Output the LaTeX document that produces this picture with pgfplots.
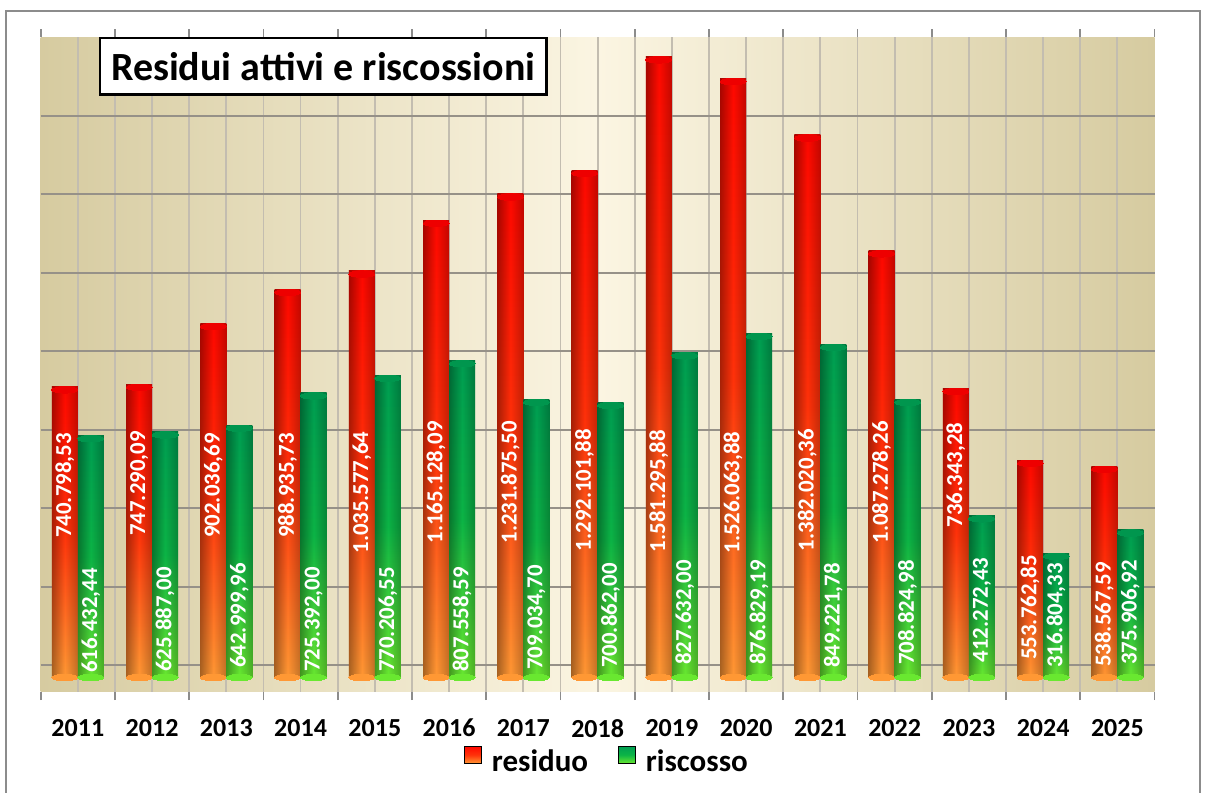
\documentclass[border=0pt]{standalone}
\usepackage{pgfplots}
\pgfplotsset{compat=1.18}
\usepackage{pgfplotstable}
\usetikzlibrary{fadings}
\usepackage{fontspec}
\setmainfont{Carlito}

\definecolor{wallEdge}{RGB}{214,203,160}
\definecolor{wallMid}{RGB}{251,245,226}
\definecolor{resTop}{RGB}{255,8,0}
\definecolor{resMid}{RGB}{255,50,10}
\definecolor{resBot}{RGB}{255,152,52}
\definecolor{resCap}{RGB}{238,0,0}
\definecolor{risTop}{RGB}{0,158,82}
\definecolor{risMid}{RGB}{12,180,70}
\definecolor{risBot}{RGB}{105,232,48}
\definecolor{risCap}{RGB}{0,150,78}
\definecolor{floorBlue}{RGB}{88,134,200}
\definecolor{floorGrayA}{RGB}{170,166,192}
\definecolor{floorGrayB}{RGB}{205,202,218}
\definecolor{vgrid}{RGB}{195,189,176}
\definecolor{hgrid}{RGB}{150,145,136}
\definecolor{frame}{RGB}{140,140,140}

\tikzfading[name=topfade, top color=transparent!50, bottom color=transparent!100]

\pgfdeclarelayer{floor}
\pgfplotsset{
  layers/mylayers/.define layer set={axis background,floor,axis grid,axis ticks,axis lines,axis tick labels,pre main,main,axis descriptions,axis foreground}{},
  cylres/.style={forget plot, ybar, bar width=0.35, bar shift=0pt, draw=none,
    top color=resTop, bottom color=resBot, middle color=resMid},
  cylris/.style={forget plot, ybar, bar width=0.35, bar shift=0pt, draw=none,
    top color=risTop, bottom color=risBot, middle color=risMid},
  cylshade/.style={forget plot, ybar, bar width=0.35, bar shift=0pt, draw=none,
    left color=black!34, right color=black!24, middle color=white, blend mode=multiply},
}

\pgfplotstableread{
i year r g rl gl rlab glab
0 2011 740798.53 616432.44 489000 145200 740.798,53 616.432,44
1 2012 747290.09 625887.00 494100 147700 747.290,09 625.887,00
2 2013 902036.69 642999.96 489000 157900 902.036,69 642.999,96
3 2014 988935.73 725392.00 489000 147700 988.935,73 725.392,00
4 2015 1035577.64 770206.55 471200 147700 1.035.577,64 770.206,55
5 2016 1165128.09 807558.59 496700 147700 1.165.128,09 807.558,59
6 2017 1231875.50 709034.70 496700 152800 1.231.875,50 709.034,70
7 2018 1292101.88 700862.00 477600 157900 1.292.101,88 700.862,00
8 2019 1581295.88 827632.00 475000 165600 1.581.295,88 827.632,00
9 2020 1526063.88 876829.19 471200 165600 1.526.063,88 876.829,19
10 2021 1382020.36 849221.78 477600 157900 1.382.020,36 849.221,78
11 2022 1087278.26 708824.98 496700 165600 1.087.278,26 708.824,98
12 2023 736343.28 412272.43 515800 171900 736.343,28 412.272,43
13 2024 553762.85 316804.33 178300 157900 553.762,85 316.804,33
14 2025 538567.59 375906.92 160500 165600 538.567,59 375.906,92
}\datatable

\begin{document}
\begin{tikzpicture}
\begin{scope}[shift={(-20.35pt,346pt)}, x=0.5pt, y=-0.5pt]
  \fill[white] (0,0) rectangle (1209,792);
\end{scope}
\begin{axis}[
  set layers=mylayers,
  at={(0pt,0pt)}, anchor=south west,
  scale only axis, width=556.9pt, height=327.35pt,
  xmin=-0.5, xmax=14.5, ymin=-36900, ymax=1630700,
  scaled y ticks=false,
  axis line style={draw=none},
  axis background/.style={shade, left color=wallEdge, right color=wallEdge, middle color=wallMid},
  xtick={0,...,14},
  xticklabels from table={\datatable}{year},
  minor x tick num=1,
  xmajorgrids, xminorgrids, ymajorgrids,
  ytick={31840,231610,431380,631150,830920,1030690,1230460,1430230},
  yticklabels={},
  ytick style={draw=none},
  x grid style={vgrid, line width=0.9pt},
  y grid style={hgrid, line width=1pt},
  tick style={frame, line width=0.8pt},
  major tick length=0pt, minor tick length=4pt,
  xtick align=outside,
  extra x ticks={-0.5,14.5}, extra x tick labels={},
  extra x tick style={major tick length=4pt, grid=none},
  xticklabel style={font=\bfseries\fontsize{13}{15}\selectfont, yshift=-10pt},
  title={Residui attivi e riscossioni},
  title style={at={(0.2537,0.9374)}, anchor=center, draw=black, line width=1.1pt, fill=white,
    minimum width=223.3pt, minimum height=28.3pt, inner sep=0pt,
    font=\bfseries\fontsize{20}{24}\selectfont},
  legend style={at={(0.5093,-0.1069)}, anchor=center, draw=none, fill=none,
    font=\bfseries\fontsize{15.5}{18}\selectfont, legend columns=2,
    /tikz/every odd column/.append style={column sep=3pt},
    /tikz/every even column/.append style={column sep=13pt}},
  legend image code/.code={\fill[#1] (0pt,-0.7pt) rectangle (8.5pt,7.8pt);},
]
\begin{pgfonlayer}{floor}
  \fill[wallEdge, path fading=topfade] (axis cs:-0.5,1230460) rectangle (axis cs:14.5,1630700);
  \fill[top color=floorBlue!85!white, bottom color=floorBlue] (axis cs:-0.5,31840) rectangle (axis cs:14.5,-8900);
  \fill[top color=floorGrayA, bottom color=floorGrayB] (axis cs:-0.5,-8900) rectangle (axis cs:14.5,-36900);
\end{pgfonlayer}

% bottom caps
\addplot[forget plot, only marks, mark=*, mark size=6.5pt, mark options={draw=resBot, fill=resBot, line width=0pt, yscale=0.25}]
  table[x expr=\thisrow{i}-0.175, y expr=0] {\datatable};
\addplot[forget plot, only marks, mark=*, mark size=6.5pt, mark options={draw=risBot, fill=risBot, line width=0pt, yscale=0.25}]
  table[x expr=\thisrow{i}+0.175, y expr=0] {\datatable};

% one plot per bar, so that each cylinder gets its own shading
\pgfplotsinvokeforeach{0,...,14}{
  \addplot[cylres, x filter/.expression={abs(x-#1+0.175)<0.01 ? x : nan}]
    table[x expr=\thisrow{i}-0.175, y=r] {\datatable};
  \addplot[cylshade, x filter/.expression={abs(x-#1+0.175)<0.01 ? x : nan}]
    table[x expr=\thisrow{i}-0.175, y=r] {\datatable};
  \addplot[cylris, x filter/.expression={abs(x-#1-0.175)<0.01 ? x : nan}]
    table[x expr=\thisrow{i}+0.175, y=g] {\datatable};
  \addplot[cylshade, x filter/.expression={abs(x-#1-0.175)<0.01 ? x : nan}]
    table[x expr=\thisrow{i}+0.175, y=g] {\datatable};
}

% top caps
\addplot[forget plot, only marks, mark=*, mark size=6.5pt, mark options={draw=resCap, fill=resCap, line width=0pt, yshift=-1.6pt, yscale=0.25}]
  table[x expr=\thisrow{i}-0.175, y=r] {\datatable};
\addplot[forget plot, only marks, mark=*, mark size=6.5pt, mark options={draw=risCap, fill=risCap, line width=0pt, yshift=-1.6pt, yscale=0.25}]
  table[x expr=\thisrow{i}+0.175, y=g] {\datatable};

% legend
\addlegendimage{top color=resTop, bottom color=resBot, middle color=resMid}
\addlegendentry{residuo}
\addlegendimage{top color=risTop, bottom color=risBot, middle color=risMid}
\addlegendentry{riscosso}

% labels
\addplot[forget plot, draw=none, mark=none, nodes near coords, point meta=explicit symbolic,
  nodes near coords style={rotate=90, anchor=center, text=white, inner sep=0pt,
    font=\bfseries\fontsize{11.4}{13}\selectfont}]
  table[x expr=\thisrow{i}-0.175, y=rl, meta=rlab] {\datatable};
\addplot[forget plot, draw=none, mark=none, nodes near coords, point meta=explicit symbolic,
  nodes near coords style={rotate=90, anchor=center, text=white, inner sep=0pt,
    font=\bfseries\fontsize{11.4}{13}\selectfont}]
  table[x expr=\thisrow{i}+0.175, y=gl, meta=glab] {\datatable};
\end{axis}
\begin{scope}[shift={(-20.35pt,346pt)}, x=0.5pt, y=-0.5pt]
  \draw[frame, line width=1pt] (6,10.7) rectangle (1199.5,810);
  \pgfresetboundingbox
  \useasboundingbox (0,0) rectangle (1209,792);
\end{scope}
\end{tikzpicture}
\end{document}
